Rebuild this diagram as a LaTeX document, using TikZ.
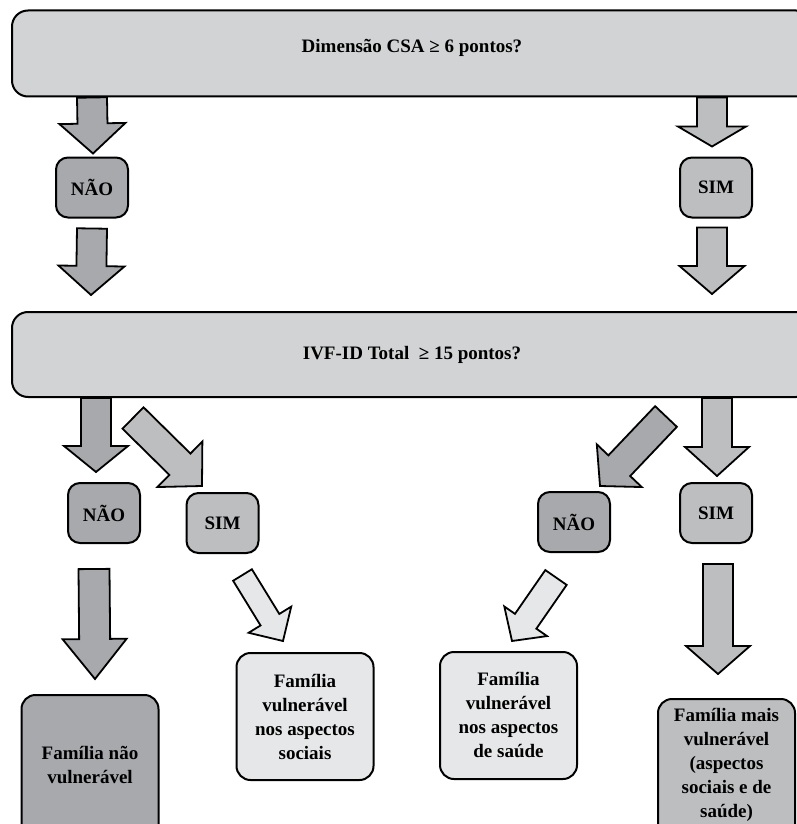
\documentclass[tikz,border=0pt]{standalone}
\usepackage{fontspec}
\setmainfont{Liberation Serif}
\usetikzlibrary{positioning, calc}
\definecolor{askfill}{RGB}{209,211,212}
\definecolor{naofill}{RGB}{167,169,172}
\definecolor{simfill}{RGB}{188,190,192}
\definecolor{outfill}{RGB}{230,231,232}
\tikzstyle{question} = [rectangle, rounded corners=8pt, minimum width=400pt, minimum height=43pt, text centered, draw=black, line width=1pt, fill=askfill, font=\fontsize{9.5}{12}\selectfont\bfseries]
\tikzstyle{nao} = [rectangle, rounded corners=6pt, minimum width=36pt, minimum height=30pt, text centered, draw=black, line width=1pt, fill=naofill, font=\fontsize{9.5}{12}\selectfont\bfseries]
\tikzstyle{sim} = [rectangle, rounded corners=6pt, minimum width=36pt, minimum height=30pt, text centered, draw=black, line width=1pt, fill=simfill, font=\fontsize{9.5}{12}\selectfont\bfseries]
\tikzstyle{outcome} = [rectangle, rounded corners=7pt, minimum width=68.5pt, minimum height=63.5pt, align=center, draw=black, line width=1pt, font=\fontsize{9.5}{12}\selectfont\bfseries]
\tikzstyle{blockarrow} = [draw=black, line width=0.9pt, fill=naofill]
% fat arrow: [style]{shaft half}{head half}{head length}{from}{to}
\newcommand{\blockarrow}[6][]{%
  \path (#5) coordinate (ba-a) (#6) coordinate (ba-b);
  \path ($(ba-b)!#4!(ba-a)$) coordinate (ba-n);
  \draw [blockarrow, #1] ($(ba-a)!#2!90:(ba-b)$) -- ($(ba-n)!#2!90:(ba-b)$)
    -- ($(ba-n)!#3!90:(ba-b)$) -- (ba-b) -- ($(ba-n)!#3!-90:(ba-b)$)
    -- ($(ba-n)!#2!-90:(ba-b)$) -- ($(ba-a)!#2!-90:(ba-b)$) -- cycle;
}

\begin{document}
\begin{tikzpicture}[x=1pt, y=1pt, node distance=67pt]
\useasboundingbox (0,0) rectangle (398.5,-412);

% First question
\node (csa) [question, text depth=8pt] at (206,-26.75) {Dimensão CSA ≥ 6 pontos?};
\node (nao1) [nao, below of=csa, xshift=-160pt] {NÃO};
\node (sim1) [sim, below of=csa, xshift=152pt] {SIM};

% Second question
\node (ivf) [question, minimum height=42.5pt, below of=csa, yshift=-83.5pt] {IVF-ID Total\ \ ≥ 15 pontos?};
\node (nao2) [nao, below of=ivf, xshift=-154pt, yshift=-12.25pt] {NÃO};
\node (sim2) [sim, below of=ivf, xshift=-94.75pt, yshift=-17.25pt] {SIM};
\node (nao3) [nao, below of=ivf, xshift=81pt, yshift=-16.75pt] {NÃO};
\node (sim3) [sim, below of=ivf, xshift=152pt, yshift=-12.25pt] {SIM};

% Results (the two outer boxes run off the page)
\node (res1) [outcome, fill=naofill, minimum height=85pt, below of=nao2, xshift=-7pt, yshift=-66.5pt] {Família não\\vulnerável\rule[-15pt]{0pt}{0pt}};
\node (res2) [outcome, fill=outfill, below of=sim2, xshift=41.25pt, yshift=-29.75pt] {Família\\vulnerável\\nos aspectos\\sociais};
\node (res3) [outcome, fill=outfill, below of=nao3, xshift=-32.75pt, yshift=-29.75pt] {Família\\vulnerável\\nos aspectos\\de saúde};
\node (res4) [outcome, fill=simfill, minimum height=86pt, below of=sim3, xshift=5.25pt, yshift=-69pt] {Família mais\\vulnerável\\(aspectos\\sociais e de\\saúde)\rule[-22.5pt]{0pt}{0pt}};

% Arrows
\blockarrow[fill=naofill]{7.5pt}{16.5pt}{15pt}{nao1 |- csa.south}{$(nao1.north)+(0.5,1.5)$}
\blockarrow[fill=naofill]{7.5pt}{16.5pt}{14.5pt}{$(nao1.south)+(0,-5)$}{$(nao1 |- ivf.north)+(-0.5,8)$}
\blockarrow[fill=simfill]{7.5pt}{17pt}{10pt}{$(sim1 |- csa.south)+(-2,0)$}{$(sim1.north)+(-2,5)$}
\blockarrow[fill=simfill]{7.5pt}{16.25pt}{14pt}{$(sim1.south)+(-2,-4.5)$}{$(sim1 |- ivf.north)+(-2,8.5)$}

\blockarrow[fill=naofill]{7.5pt}{16pt}{13pt}{$(nao2 |- ivf.south)+(-4,0)$}{$(nao2.north)+(-4,5)$}
\blockarrow[fill=simfill]{7.5pt}{16pt}{15.5pt}{$(sim2.north)+(-44.75,37)$}{$(sim2.north)+(-10.25,3)$}
\blockarrow[fill=naofill]{7.5pt}{15.5pt}{14pt}{$(nao3.north)+(46,37.25)$}{$(nao3.north)+(13,2.5)$}
\blockarrow[fill=simfill]{7.5pt}{16pt}{14.5pt}{$(sim3 |- ivf.south)+(0.5,0)$}{$(sim3.north)+(0.5,3)$}

\blockarrow[fill=naofill]{7.75pt}{16pt}{20pt}{$(nao2.south)+(-5,-12.5)$}{$(res1.north)+(2.5,7.5)$}
\blockarrow[fill=outfill]{5.5pt}{12.5pt}{12.5pt}{$(sim2.south)+(10,-10.5)$}{$(res2.north)+(-11,5.5)$}
\blockarrow[fill=outfill]{6.5pt}{13pt}{12pt}{$(nao3.south)+(-9,-12.25)$}{$(res3.north)+(1.75,5)$}
\blockarrow[fill=simfill]{7.5pt}{16pt}{14pt}{$(sim3.south)+(1,-10)$}{$(res4.north)+(-4.25,12)$}

\end{tikzpicture}
\end{document}
